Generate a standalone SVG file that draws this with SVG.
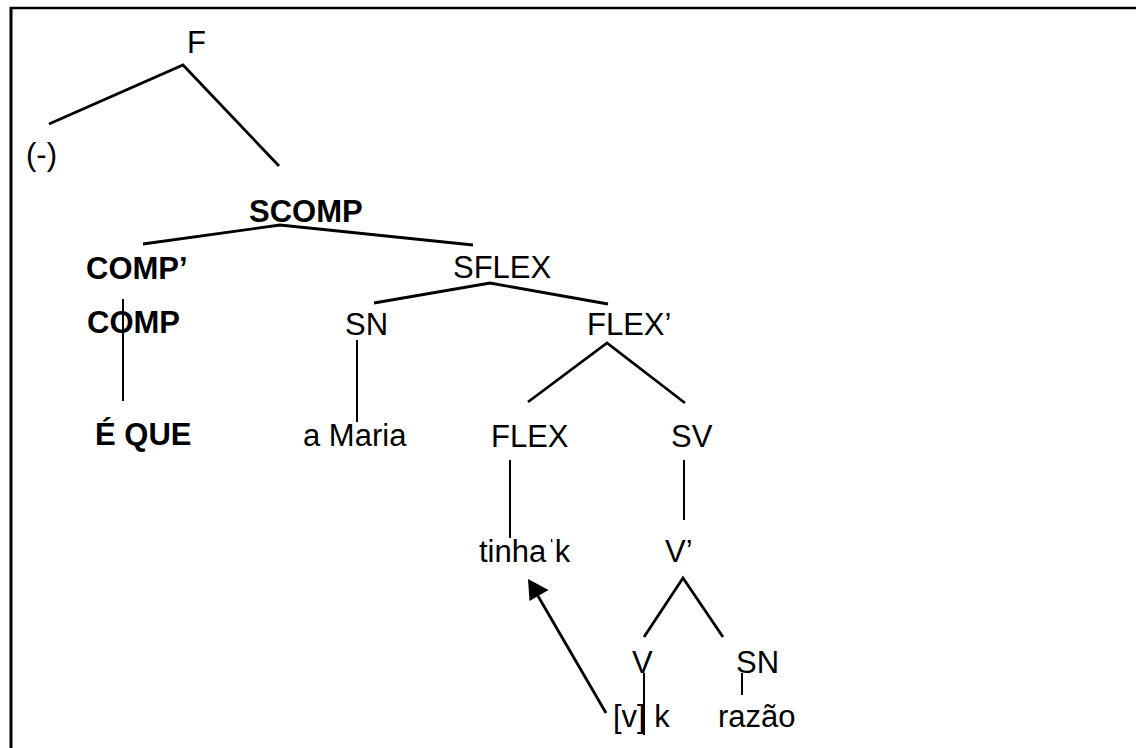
<svg xmlns="http://www.w3.org/2000/svg" width="1136" height="748" viewBox="0 0 1136 748">
<style>
text{font-family:"Liberation Sans",Arial,sans-serif;font-size:31px;fill:#000}
.b{font-weight:bold}
.e{stroke:#000;stroke-width:2.8;fill:none;stroke-linejoin:miter}
.t{stroke:#000;stroke-width:2;fill:none}
</style>
<rect x="0" y="0" width="1136" height="748" fill="#fff"/>
<g id="frame">
<line x1="10" y1="8" x2="1136" y2="8" stroke="#000" stroke-width="2.5"/>
<line x1="11" y1="7" x2="11" y2="748" stroke="#000" stroke-width="3"/>
</g>
<g id="connectors">
<polyline class="e" points="49,124 183,65 279,166"/>
<polyline class="e" points="143,244 280,225 473,245"/>
<polyline class="e" points="374,303 490,283 608,304"/>
<line class="t" x1="123" y1="299" x2="123" y2="401"/>
<line class="t" x1="357" y1="340" x2="357" y2="422"/>
<polyline class="e" points="528,402 607,343 685,403"/>
<line class="t" x1="510" y1="460" x2="510" y2="538"/>
<line class="t" x1="684" y1="460" x2="684" y2="520"/>
<polyline class="e" points="644,637 683,578 723,637"/>
<line class="t" x1="644" y1="673" x2="644" y2="735"/>
<line class="t" x1="742" y1="673" x2="742" y2="695"/>
<line x1="606" y1="713" x2="538" y2="596" stroke="#000" stroke-width="2.8"/>
<path d="M528,579 L548.5,590 L529.5,601 Z" fill="#000"/>
</g>
<g id="n-F"><text x="187" y="53">F</text></g>
<g id="n-neg"><text x="26" y="165">(-)</text></g>
<g id="n-SCOMP"><text class="b" x="249" y="222">SCOMP</text></g>
<g id="n-COMPbar"><text class="b" x="86" y="279">COMP’</text></g>
<g id="n-SFLEX"><text x="453" y="278">SFLEX</text></g>
<g id="n-COMP"><text class="b" x="87" y="333">COMP</text></g>
<g id="n-SN1"><text x="345" y="335">SN</text></g>
<g id="n-FLEXbar"><text x="587" y="335">FLEX’</text></g>
<g id="n-EQUE"><text class="b" x="95" y="445">É QUE</text></g>
<g id="n-aMaria"><text x="303" y="446">a Maria</text></g>
<g id="n-FLEX"><text x="491" y="447">FLEX</text></g>
<g id="n-SV"><text x="671" y="447">SV</text></g>
<g id="n-tinha"><text x="479" y="562">tinha k</text><rect x="551" y="539" width="1.3" height="3" fill="#000"/></g>
<g id="n-Vbar"><text x="665" y="562">V’</text></g>
<g id="n-V"><text x="632" y="673">V</text></g>
<g id="n-SN2"><text x="736" y="673">SN</text></g>
<g id="n-vk"><text x="613" y="727">[v] k</text></g>
<g id="n-razao"><text x="718" y="727">razão</text></g>
</svg>
